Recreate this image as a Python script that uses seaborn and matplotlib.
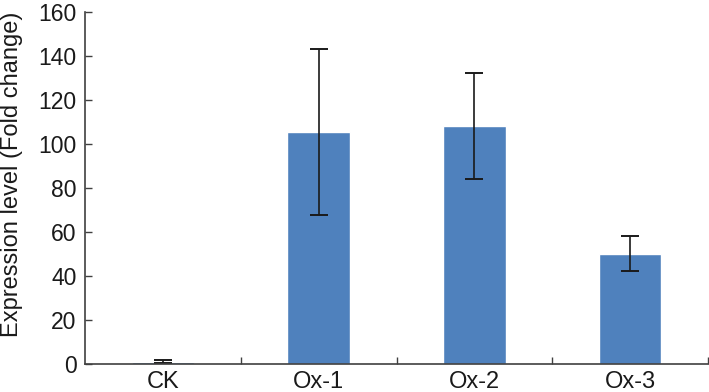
import matplotlib
matplotlib.use("Agg")
import matplotlib.pyplot as plt
import seaborn as sns
import pandas as pd
import numpy as np

categories = ["CK", "Ox-1", "Ox-2", "Ox-3"]
values = [1.0, 105.5, 108.3, 50.2]
errors = [0.6, 37.6, 24.0, 8.0]
y_ticks = [0, 20, 40, 60, 80, 100, 120, 140, 160]

sns.set_theme(style="white")
plt.rcParams['font.family'] = ['Liberation Sans', 'DejaVu Sans']

df = pd.DataFrame({"group": categories, "value": values})

fig = plt.figure(figsize=(7.09, 3.92), dpi=100)
ax = fig.add_axes([85/709, 28/392, 623/709, 352/392])

sns.barplot(data=df, x="group", y="value", color="#4F81BD", saturation=1,
            width=0.4, errorbar=None, ax=ax)
ax.errorbar(x=np.arange(len(categories)), y=values, yerr=errors, fmt="none",
            ecolor="#1a1a1a", elinewidth=1.2, capsize=6.5, capthick=1.4)

ax.set_xlim(-0.5, 3.5)
ax.set_ylim(0, 160)
ax.set_yticks(y_ticks)
ax.set_xlabel("")
ax.set_ylabel("Expression level (Fold change)", fontsize=17, color="#1a1a1a")
ax.yaxis.set_label_coords(-0.100, 0.54)

ax.set_xticks(np.arange(len(categories)))
ax.set_xticklabels(categories)
ax.set_xticks(np.arange(len(categories)) + 0.5, minor=True)
ax.tick_params(axis="x", which="major", length=0, labelsize=17, labelcolor="#1a1a1a", pad=5)
ax.tick_params(axis="x", which="minor", direction="in", length=5, width=1, color="#404040", bottom=True)
ax.tick_params(axis="y", direction="in", length=5, width=1, color="#404040", left=True,
               labelsize=16.5, labelcolor="#1a1a1a", pad=6)

for s in ["top", "right"]:
    ax.spines[s].set_visible(False)
for s in ["left", "bottom"]:
    ax.spines[s].set_color("#404040")
    ax.spines[s].set_linewidth(1.2)

fig.savefig("out.png", dpi=100)
